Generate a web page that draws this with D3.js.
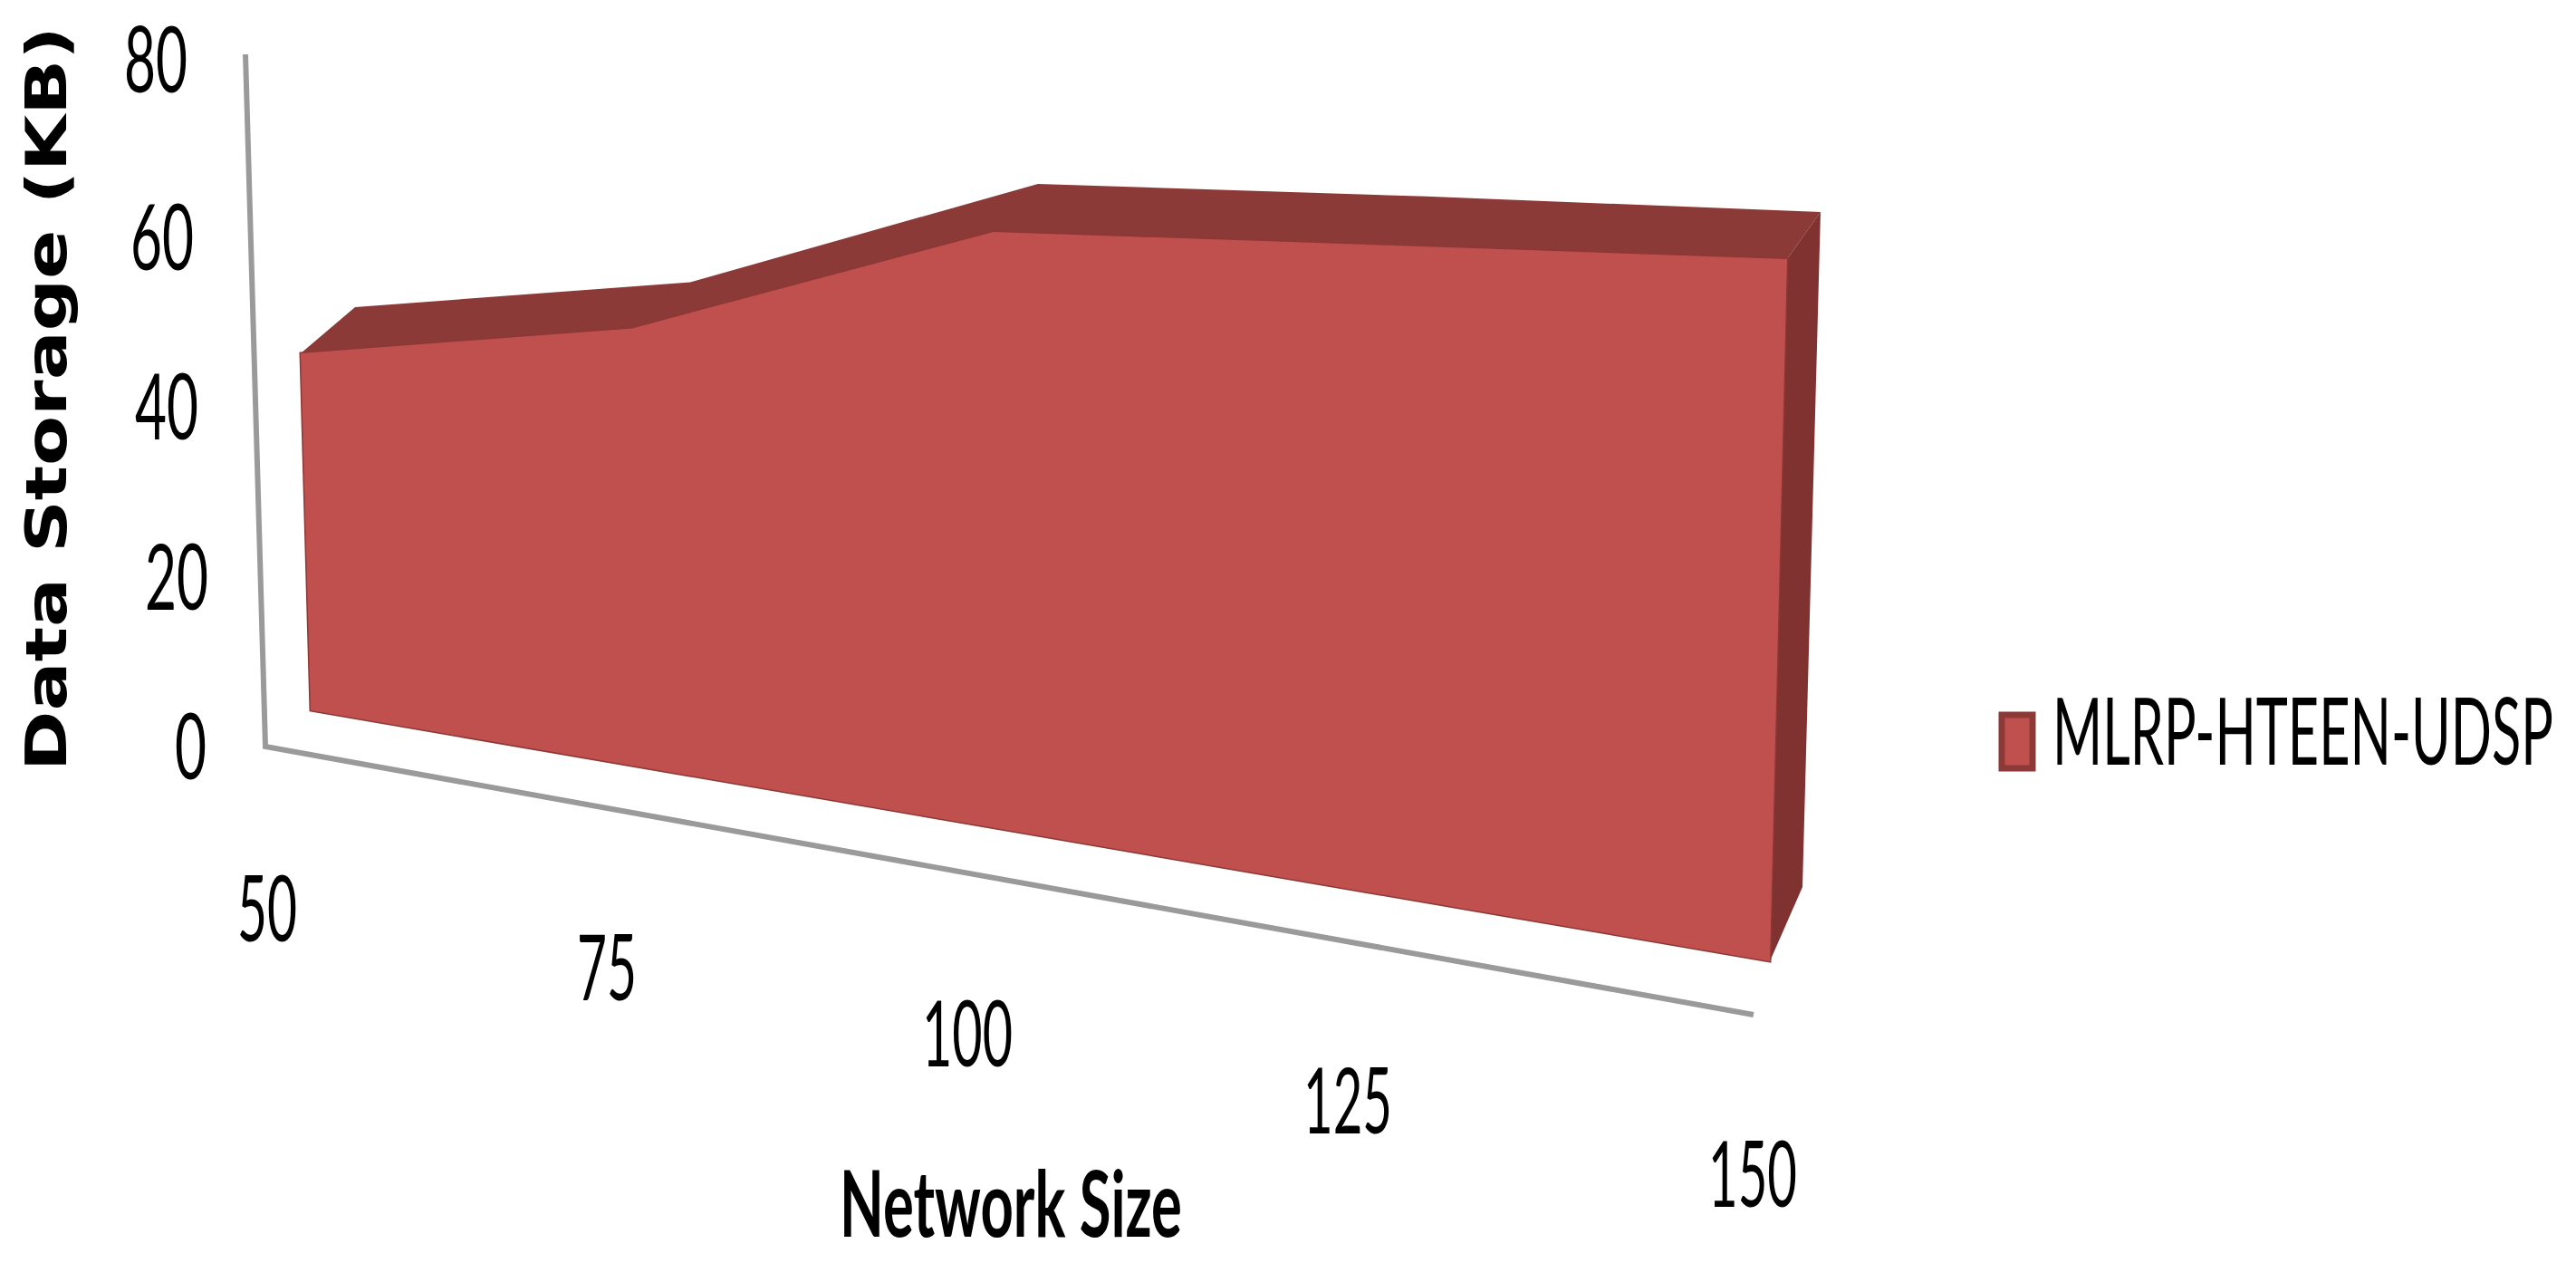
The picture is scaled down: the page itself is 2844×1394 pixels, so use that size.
<!DOCTYPE html>
<html><head><meta charset="utf-8">
<script src="https://cdn.jsdelivr.net/npm/d3@7"></script>
<style>html,body{margin:0;padding:0;background:#fff;overflow:hidden}svg{display:block}</style>
</head><body>
<svg id="c" width="2844" height="1394"></svg>
<script>
// ---- data ----
const categories = ["50","75","100","125","150"];
const seriesName = "MLRP-HTEEN-UDSP";
const seriesValues = [40, 46, 58.8, 60.5, 62];
const valueTicks = [0, 20, 40, 60, 80];

// ---- projection of the 3-D area chart, expressed as scales ----
const idx = categories.map((_, i) => i);
const floorX = d3.scaleLinear().domain(idx).range([343, 704, 1096, 1525, 1954]);
const floorY = d3.scaleLinear().domain(idx).range([784, 846, 913, 987, 1061]);
const pxPerUnit = d3.scaleLinear().domain([0, 4]).range([9.85, 12.5]);
const leanPerUnit = d3.scaleLinear().domain([0, 4]).range([-0.275, 0.306]);
const depthX = d3.scaleLinear().domain(idx).range([60, 64, 49, 40, 37]);
const depthY = d3.scaleLinear().domain(idx).range([-51, -51, -53, -54, -52]);
const frontTop = (v, i) => [floorX(i) + leanPerUnit(i) * v, floorY(i) - pxPerUnit(i) * v];
const backTop = (v, i) => { const p = frontTop(v, i); return [p[0] + depthX(i), p[1] + depthY(i)]; };

const wallX = d3.scaleLinear().domain([0, 80]).range([293, 271]);
const wallY = d3.scaleLinear().domain([0, 80]).range([824, 60]);
const tickRight = d3.scaleLinear().domain(valueTicks).range([228, 230, 219, 214, 207]);
const tickBase = d3.scaleLinear().domain(valueTicks).range([860, 673, 485, 298, 102]);
const catLabelX = d3.scaleLinear().domain(idx).range([295, 670, 1068, 1488, 1935]);
const catLabelY = d3.scaleLinear().domain(idx).range([1039, 1104, 1177, 1251, 1332]);
const floorEnd = [1936, 1120];

const colFront = "#c0504d", colTop = "#8c3a38", colSide = "#7f3230", colEdge = "#8c3836";
const narrow = "Lato, Carlito, 'Open Sans', sans-serif";
const svg = d3.select("#c");
const poly = pts => "M" + pts.map(p => p.join(",")).join("L") + "Z";

// walls / floor lines
svg.append("path").attr("d", `M${wallX(80)},${wallY(80)}L${wallX(0)},${wallY(0)}L${floorEnd}`)
  .attr("fill", "none").attr("stroke", "#9a9a9a").attr("stroke-width", 6);

// top face
const fronts = seriesValues.map(frontTop);
const backs = seriesValues.map(backTop);
svg.append("path").attr("d", poly(fronts.concat(backs.slice().reverse()))).attr("fill", colTop);

// right side face
const last = idx.length - 1;
const br = [floorX(last), floorY(last)];
svg.append("path").attr("d", poly([fronts[last], backs[last],
    [br[0] + depthX(last) - 1, br[1] - 82], br])).attr("fill", colSide);

// front face
const frontPts = fronts.concat([br, [floorX(0), floorY(0)]]);
svg.append("path").attr("d", poly(frontPts)).attr("fill", colFront)
  .attr("stroke", colEdge).attr("stroke-width", 3).attr("stroke-linejoin", "miter");
svg.append("path").attr("d", poly(frontPts)).attr("fill", colFront);

// text helper: the reference's glyphs are stretched, so fit each text to its width with a scale
function fit(sel, x, y, len, rotate) {
  const natural = sel.node().getComputedTextLength();
  sel.attr("transform", `translate(${x},${y})${rotate ? " rotate(-90)" : ""} scale(${len / natural},1)`);
  return sel;
}
function label(x, y, str, len, size, opts = {}) {
  const sel = svg.append("text").text(str)
    .attr("font-family", opts.family || narrow)
    .attr("font-size", size)
    .attr("font-weight", opts.weight || 400)
    .attr("fill", "#000");
  return fit(sel, x, y, len, opts.rotate);
}

// value ticks
valueTicks.forEach(v => {
  const s = String(v), w = s.length * 35;
  label(tickRight(v) - w, tickBase(v), s, w, 101);
});
// category ticks
categories.forEach((c, i) => {
  const w = [66, 66, 100, 98, 98][i];
  label(catLabelX(i) - w / 2, catLabelY(i), c, w, 101);
});

// axis titles
label(927, 1365, "Network Size", 378, 101, {weight: 700});
label(73, 851, "Data Storage (KB)", 822, 62, {weight: 700, family: "'DejaVu Sans', sans-serif", rotate: true});

// legend
svg.append("rect").attr("x", 2210).attr("y", 789).attr("width", 34).attr("height", 59)
  .attr("fill", colFront).attr("stroke", colTop).attr("stroke-width", 7);
label(2266, 844, seriesName, 553, 103);
</script>
</body></html>
